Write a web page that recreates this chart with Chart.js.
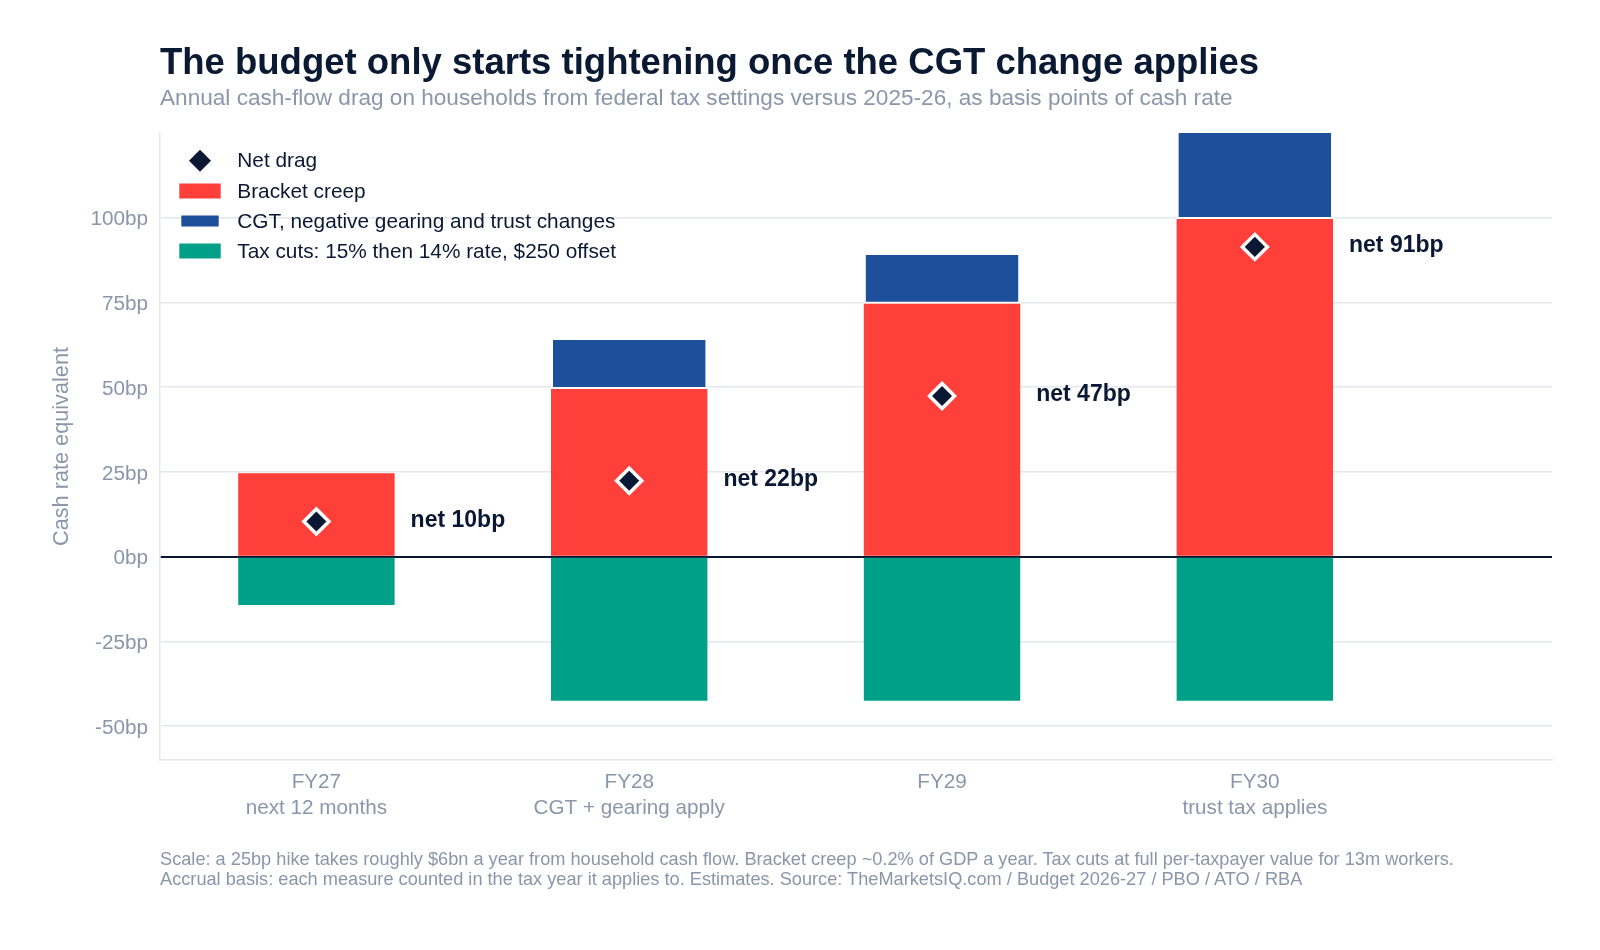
<!DOCTYPE html>
<html>
<head>
<meta charset="utf-8">
<script src="https://cdn.jsdelivr.net/npm/chart.js@4.4.1/dist/chart.umd.min.js"></script>
<style>
html,body{margin:0;padding:0;background:#ffffff;}
#wrap{position:relative;width:1600px;height:950px;font-family:"Liberation Sans",Arial,sans-serif;overflow:hidden;}
#c{position:absolute;left:0;top:0;}
.t{position:absolute;left:160px;white-space:nowrap;margin:0;}
#title{top:41.6px;font-size:36.5px;line-height:40px;font-weight:bold;color:#0b1a33;}
#sub{top:85.2px;font-size:22.6px;line-height:26px;color:#8a96aa;}
#foot{top:850px;font-size:18.2px;line-height:19.5px;color:#8a96aa;}
</style>
</head>
<body>
<div id="wrap">
<canvas id="c" width="1600" height="950"></canvas>
<div class="t" id="title">The budget only starts tightening once the CGT change applies</div>
<div class="t" id="sub">Annual cash-flow drag on households from federal tax settings versus 2025-26, as basis points of cash rate</div>
<div class="t" id="foot">Scale: a 25bp hike takes roughly $6bn a year from household cash flow. Bracket creep ~0.2% of GDP a year. Tax cuts at full per-taxpayer value for 13m workers.<br>Accrual basis: each measure counted in the tax year it applies to. Estimates. Source: TheMarketsIQ.com / Budget 2026-27 / PBO / ATO / RBA</div>
</div>
<script>
// ---- data ----
const categories = ['FY27', 'FY28', 'FY29', 'FY30'];
const subLabels = ['next 12 months', 'CGT + gearing apply', '', 'trust tax applies'];
const bracketCreep = [24.6, 49.5, 74.6, 99.6];
const cgtChanges = [null, 15.0, 15.0, 34.3];
const taxCuts = [-14.3, -42.5, -42.5, -42.5];
const netDrag = [10.4, 22.4, 47.4, 91.4];
const yTickValues = [-50, -25, 0, 25, 50, 75, 100];
const seriesNames = ['Net drag', 'Bracket creep', 'CGT, negative gearing and trust changes', 'Tax cuts: 15% then 14% rate, $250 offset'];

const NAVY = '#0b1834';
const RED = '#ff3f39';
const BLUE = '#1d4f9b';
const GREEN = '#00a088';
const GRAY = '#8a96aa';
const GRID = '#e3e7ee';
const FONT = '"Liberation Sans", Arial, sans-serif';

const toXY = arr => arr.map((v, i) => ({x: i, y: v}));

const legendPlugin = {
  id: 'customLegend',
  afterDraw(chart) {
    const ctx = chart.ctx;
    const rows = [160.7, 191, 221, 251];
    ctx.save();
    ctx.font = '20.8px ' + FONT;
    ctx.textBaseline = 'middle';
    ctx.textAlign = 'left';
    chart.data.datasets.forEach((ds, i) => {
      const y = rows[i];
      if (i === 0) {
        const r = 11;
        ctx.fillStyle = ds.backgroundColor;
        ctx.beginPath();
        ctx.moveTo(200, y - r); ctx.lineTo(200 + r, y); ctx.lineTo(200, y + r); ctx.lineTo(200 - r, y);
        ctx.closePath(); ctx.fill();
      } else {
        ctx.fillStyle = ds.backgroundColor;
        if (ds.borderWidth && ds.borderSkipped === false) {
          ctx.fillRect(181.3, y - 5.5, 37.4, 11);
        } else {
          ctx.fillRect(179.3, y - 7.5, 41.4, 15);
        }
      }
      ctx.fillStyle = NAVY;
      ctx.fillText(ds.label, 237.3, y + 1);
    });
    ctx.restore();
  }
};

const netLabelPlugin = {
  id: 'netLabels',
  afterDatasetsDraw(chart) {
    const ctx = chart.ctx;
    const meta = chart.getDatasetMeta(1);
    const ys = chart.scales.y;
    ctx.save();
    ctx.font = 'bold 23px ' + FONT;
    ctx.fillStyle = NAVY;
    ctx.textBaseline = 'middle';
    ctx.textAlign = 'left';
    netDrag.forEach((v, i) => {
      const bar = meta.data[i];
      const right = bar.x + bar.width / 2;
      ctx.fillText('net ' + Math.round(v) + 'bp', right + 16, ys.getPixelForValue(v) - 1);
    });
    ctx.restore();
  }
};

new Chart(document.getElementById('c'), {
  data: {
    datasets: [
      {
        type: 'line', label: seriesNames[0], data: toXY(netDrag), stack: 'net',
        showLine: false, pointStyle: 'rectRot', pointRadius: 12.5, pointHoverRadius: 12.5,
        backgroundColor: NAVY, borderColor: '#ffffff', pointBorderWidth: 3.5, borderWidth: 3.5,
        order: 0
      },
      {
        type: 'bar', label: seriesNames[1], data: toXY(bracketCreep), stack: 'bars',
        backgroundColor: RED, borderWidth: 0, order: 1
      },
      {
        type: 'bar', label: seriesNames[2], data: toXY(cgtChanges), stack: 'bars',
        backgroundColor: BLUE, borderColor: '#ffffff', borderWidth: 2, borderSkipped: false, order: 1
      },
      {
        type: 'bar', label: seriesNames[3], data: toXY(taxCuts), stack: 'bars',
        backgroundColor: GREEN, borderWidth: 0, order: 1
      }
    ]
  },
  options: {
    responsive: false,
    animation: false,
    devicePixelRatio: 1,
    datasets: { bar: { barPercentage: 0.5, categoryPercentage: 1.0 } },
    layout: { padding: { top: 133, right: 48, bottom: 120, left: 0 } },
    plugins: { legend: { display: false }, tooltip: { enabled: false }, title: { display: false } },
    scales: {
      x: {
        type: 'linear', min: -0.5, max: 3.95, stacked: true, offset: false,
        grid: { display: false, drawTicks: false },
        border: { display: true, color: GRID, width: 1.5 },
        afterBuildTicks: s => { s.ticks = categories.map((c, i) => ({ value: i })); },
        afterFit: s => { s.height = 70; },
        ticks: {
          autoSkip: false, maxRotation: 0, padding: 9, color: GRAY,
          font: { family: FONT, size: 20.7, lineHeight: 1.25 },
          callback: v => subLabels[v] ? [categories[v], subLabels[v]] : [categories[v]]
        }
      },
      y: {
        type: 'linear', min: -60, max: 125, stacked: true,
        afterBuildTicks: s => { s.ticks = yTickValues.map(v => ({ value: v })); },
        afterFit: s => { s.width = 160; },
        grid: {
          drawTicks: false,
          color: c => (c.tick && c.tick.value === 0) ? NAVY : GRID,
          lineWidth: c => (c.tick && c.tick.value === 0) ? 2 : 1.5
        },
        border: { display: true, color: GRID, width: 1.5 },
        ticks: {
          padding: 12, labelOffset: 2, color: GRAY, font: { family: FONT, size: 20.7 },
          callback: v => v + 'bp'
        },
        title: {
          display: true, text: 'Cash rate equivalent', color: GRAY,
          font: { family: FONT, size: 21.7 }, padding: { top: 49, bottom: 0 }
        }
      }
    }
  },
  plugins: [legendPlugin, netLabelPlugin]
});
</script>
</body>
</html>
